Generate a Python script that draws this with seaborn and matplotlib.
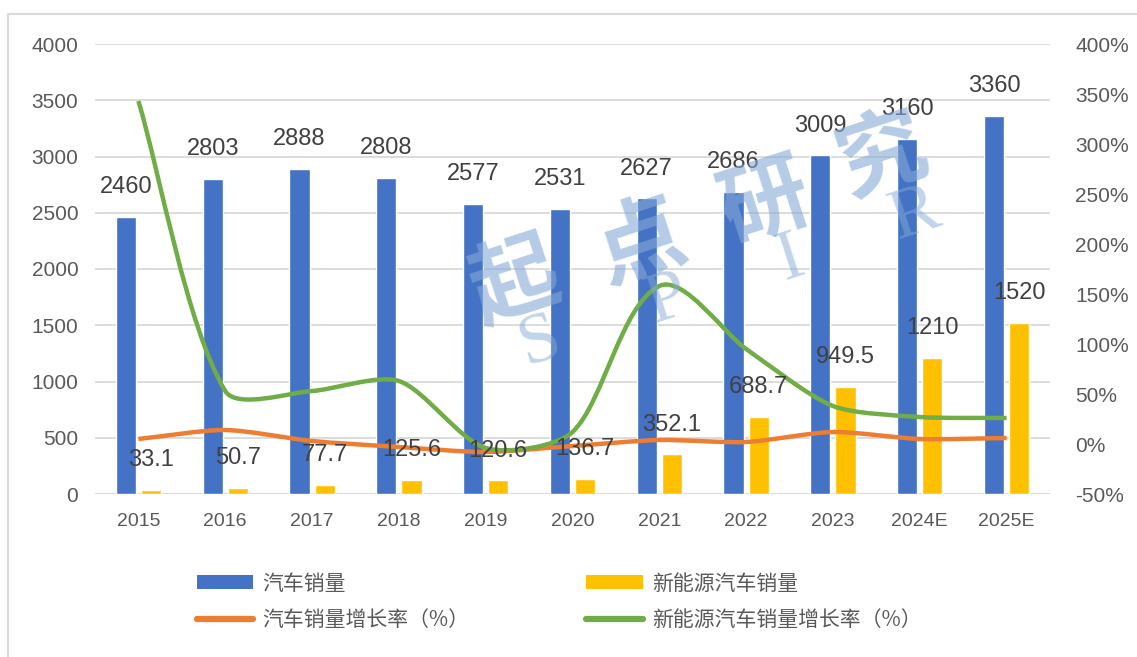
import numpy as np
import pandas as pd
import matplotlib
matplotlib.use("Agg")
import matplotlib.pyplot as plt
from matplotlib.path import Path
from matplotlib.patches import PathPatch, Patch, Rectangle
from matplotlib.lines import Line2D
import seaborn as sns

# ---------------- data ----------------
years = ["2015", "2016", "2017", "2018", "2019", "2020", "2021", "2022", "2023", "2024E", "2025E"]
car_sales = [2460, 2803, 2888, 2808, 2577, 2531, 2627, 2686, 3009, 3160, 3360]
nev_sales = [33.1, 50.7, 77.7, 125.6, 120.6, 136.7, 352.1, 688.7, 949.5, 1210, 1520]
car_growth = [5, 14, 3, -3, -8, -2, 4, 2, 12, 5, 6]            # %
nev_growth = [343, 53, 53, 63, -4, 12, 158, 95, 38, 27, 26]    # %
series_names = ["汽车销量", "新能源汽车销量", "汽车销量增长率（%）", "新能源汽车销量增长率（%）"]
left_ticks = [0, 500, 1000, 1500, 2000, 2500, 3000, 3500, 4000]
right_ticks = [-50, 0, 50, 100, 150, 200, 250, 300, 350, 400]

# ---------------- style ----------------
C_BLUE = "#4472C4"
C_YELLOW = "#FFC000"
C_ORANGE = "#ED7D31"
C_GREEN = "#70AD47"
TXT = "#595959"
LBL = "#404040"

sns.set_theme(style="white")
plt.rcParams["font.family"] = ["Liberation Sans", "Noto Sans CJK SC", "DejaVu Sans"]

W, H = 1137, 657
fig = plt.figure(figsize=(W / 100, H / 100), dpi=100)
ax = fig.add_axes([95 / W, 1 - 494 / H, (1050 - 95) / W, (494 - 44) / H])

df = pd.DataFrame({
    "year": years * 2,
    "value": car_sales + nev_sales,
    "series": [series_names[0]] * len(years) + [series_names[1]] * len(years),
})
sns.barplot(data=df, x="year", y="value", hue="series", order=years,
            hue_order=series_names[:2], palette=[C_BLUE, C_YELLOW],
            width=0.58, gap=0.2, saturation=1, legend=False, ax=ax, zorder=2)

ax.set_xlim(-0.5, len(years) - 0.5)
ax.set_ylim(0, 4000)
ax.set_yticks(left_ticks)
ax.set_xlabel("")
ax.set_ylabel("")
ax.grid(axis="y", color="#D9D9D9", linewidth=1.3, zorder=0)
ax.grid(axis="x", visible=False)
for s in ax.spines.values():
    s.set_visible(False)
ax.axhline(0, color="#D9D9D9", linewidth=1.3, zorder=1)
ax.tick_params(axis="y", labelsize=15, labelcolor=TXT, length=0, pad=12)
ax.tick_params(axis="x", labelsize=14, labelcolor=TXT, length=0, pad=14)

# ---------------- watermark ----------------
wm_color = "#85a9d6"
for ch, (px, py) in zip("起点研究", [(515, 283), (640, 243), (765, 203), (882, 158)]):
    fig.text(px / W, 1 - py / H, ch, fontsize=64, fontweight="bold",
             family=["Noto Sans CJK SC"], color=wm_color, alpha=0.6,
             rotation=18, ha="center", va="center", zorder=3)
for ch, (px, py) in zip("SPIR", [(540, 343), (668, 300), (790, 260), (915, 215)]):
    fig.text(px / W, 1 - py / H, ch, fontsize=52, family=["Liberation Serif"],
             color=wm_color, alpha=0.5, rotation=18, ha="center", va="center", zorder=3)

# ---------------- lines on secondary axis ----------------
ax2 = ax.twinx()
ax2.set_ylim(-50, 400)
ax2.set_yticks(right_ticks)
ax2.yaxis.set_major_formatter(matplotlib.ticker.FuncFormatter(lambda v, p: f"{v:.0f}%"))
ax2.tick_params(axis="y", labelsize=15, labelcolor=TXT, length=0, pad=18)
ax2.grid(False)
for s in ax2.spines.values():
    s.set_visible(False)


def smooth_path(xs, ys, axis, t=0.25):
    """Excel-like smoothed line: Bezier segments built in display space."""
    trans = axis.transData
    pts = trans.transform(np.column_stack([xs, ys]).astype(float))
    n = len(pts)

    def unit(v):
        nrm = np.hypot(*v)
        return v / nrm if nrm > 0 else v

    verts = [pts[0]]
    codes = [Path.MOVETO]
    for i in range(n - 1):
        p0 = pts[i - 1] if i > 0 else pts[i]
        p1 = pts[i]
        p2 = pts[i + 1]
        p3 = pts[i + 2] if i + 2 < n else pts[i + 1]
        seg = np.hypot(*(p2 - p1))
        c1 = p1 + t * seg * unit(p2 - p0)
        c2 = p2 - t * seg * unit(p3 - p1)
        verts += [c1, c2, p2]
        codes += [Path.CURVE4] * 3
    verts = trans.inverted().transform(np.array(verts))
    return Path(verts, codes)


xpos = np.arange(len(years))
for vals, col in [(car_growth, C_ORANGE), (nev_growth, C_GREEN)]:
    ax2.add_patch(PathPatch(smooth_path(xpos, vals, ax2), facecolor="none",
                            edgecolor=col, linewidth=3.2, capstyle="butt", zorder=4))

# ---------------- data labels ----------------
for cont, vals in zip(ax.containers, [car_sales, nev_sales]):
    for bar, v in zip(cont, vals):
        cx = bar.get_x() + bar.get_width() / 2
        ax2.annotate(f"{v:g}", xy=(cx, bar.get_height()), xycoords=ax.transData,
                     xytext=(0, 21.5), textcoords="offset points",
                     ha="center", va="center", fontsize=17, color=LBL, zorder=6)

# ---------------- legend ----------------
handles = [
    Patch(facecolor=C_BLUE, edgecolor="none"),
    Line2D([], [], color=C_ORANGE, linewidth=4.5),
    Patch(facecolor=C_YELLOW, edgecolor="none"),
    Line2D([], [], color=C_GREEN, linewidth=4.5),
]
labels = [series_names[0], series_names[2], series_names[1], series_names[3]]
leg = fig.legend(handles, labels, ncol=2, loc="center left",
                 bbox_to_anchor=(197 / W, 1 - 602 / H), frameon=False,
                 prop={"family": ["Noto Sans CJK SC"], "size": 15},
                 handlelength=2.7, handleheight=0.65, handletextpad=0.45,
                 columnspacing=5.6, labelspacing=0.7, borderpad=0, borderaxespad=0)
for t in leg.get_texts():
    t.set_color(TXT)

# ---------------- outer frame ----------------
fig.patches.append(Rectangle((8 / W, -0.05), 1.2, 1 - 14 / H + 0.05, transform=fig.transFigure,
                             fill=False, edgecolor="#D9D9D9", linewidth=1.5))

fig.savefig("out.png", dpi=100, facecolor="white")
